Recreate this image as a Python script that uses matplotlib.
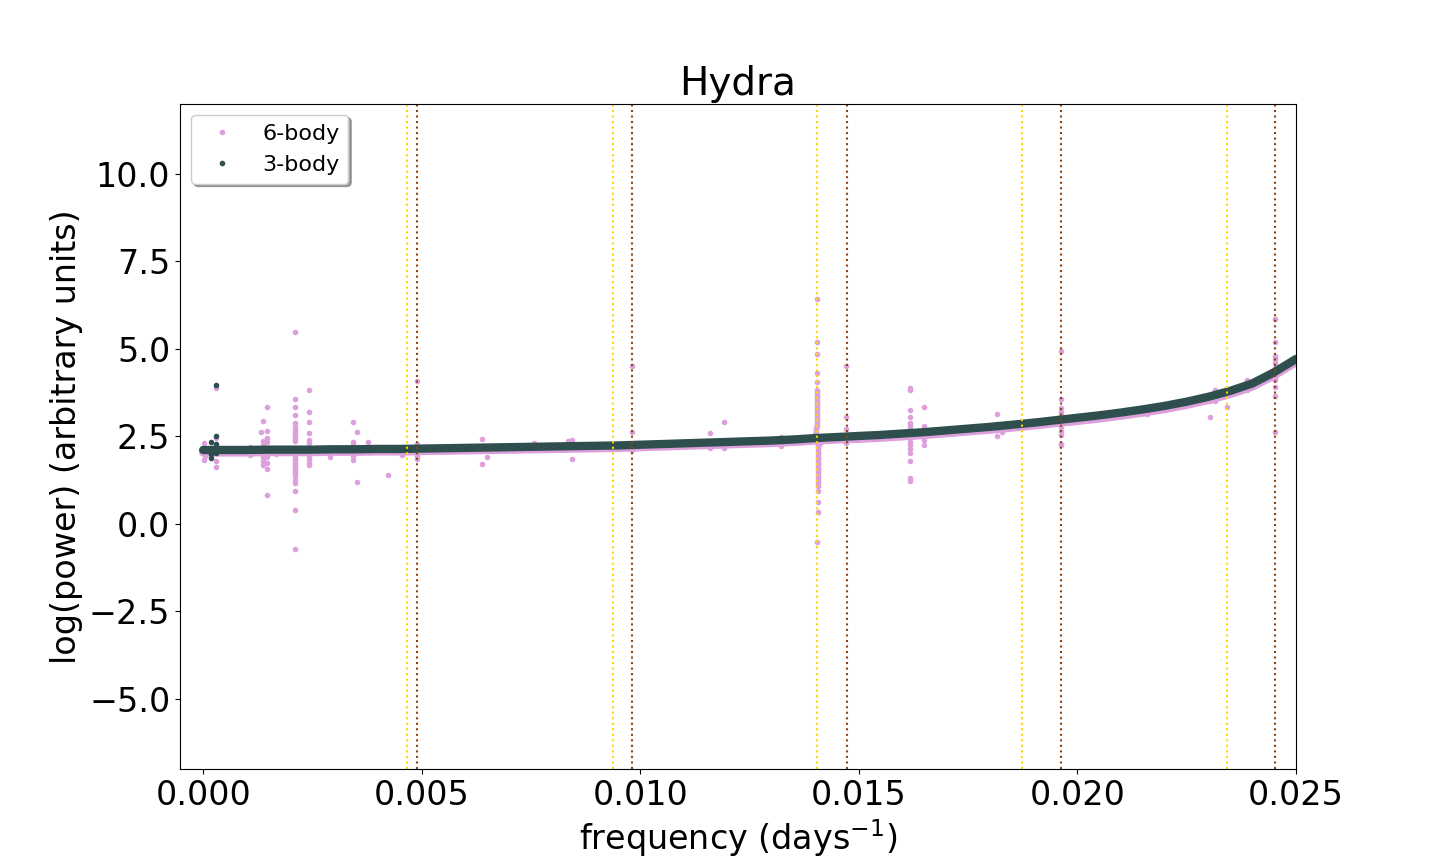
import matplotlib
matplotlib.use('Agg')
import matplotlib.pyplot as plt
from matplotlib.lines import Line2D

# frequency grid of the smooth part of the periodogram (days^-1)
freq = [0.0000, 0.0005, 0.0010, 0.0015, 0.0020, 0.0025, 0.0030, 0.0035, 0.0040, 0.0045,
        0.0050, 0.0055, 0.0060, 0.0065, 0.0070, 0.0075, 0.0080, 0.0085, 0.0090, 0.0095,
        0.0100, 0.0105, 0.0110, 0.0115, 0.0120, 0.0125, 0.0130, 0.0135, 0.0140, 0.0145,
        0.0150, 0.0155, 0.0160, 0.0165, 0.0170, 0.0175, 0.0180, 0.0185, 0.0190, 0.0195,
        0.0200, 0.0205, 0.0210, 0.0215, 0.0220, 0.0225, 0.0230, 0.0235, 0.0240, 0.0245,
        0.0250]

# log power along the smooth trend
base_3body = [2.11, 2.11, 2.11, 2.12, 2.12, 2.12, 2.13, 2.13, 2.14, 2.14,
              2.15, 2.16, 2.17, 2.18, 2.19, 2.20, 2.21, 2.22, 2.23, 2.24,
              2.26, 2.28, 2.30, 2.32, 2.34, 2.36, 2.38, 2.41, 2.45, 2.48,
              2.51, 2.54, 2.58, 2.62, 2.67, 2.72, 2.77, 2.83, 2.89, 2.96,
              3.03, 3.10, 3.18, 3.27, 3.37, 3.49, 3.63, 3.80, 4.01, 4.33,
              4.71]
base_6body = [2.04, 2.04, 2.04, 2.05, 2.05, 2.05, 2.06, 2.06, 2.07, 2.07,
              2.08, 2.09, 2.10, 2.11, 2.12, 2.13, 2.14, 2.15, 2.16, 2.17,
              2.19, 2.21, 2.23, 2.25, 2.27, 2.29, 2.31, 2.34, 2.38, 2.41,
              2.43, 2.46, 2.50, 2.54, 2.59, 2.64, 2.69, 2.75, 2.81, 2.88,
              2.94, 3.01, 3.09, 3.18, 3.28, 3.40, 3.54, 3.71, 3.92, 4.24,
              4.62]

# 6-body points that stand off the trend
peaks6_f = [0.00002, 0.00003, 0.00005, 0.00030, 0.00030, 0.00030, 0.00030,
            0.00106, 0.00106,
            0.00136, 0.00136, 0.00136, 0.00136, 0.00136, 0.00136, 0.00136, 0.00136, 0.00132,
            0.00145, 0.00145, 0.00145, 0.00145, 0.00145, 0.00145, 0.00145, 0.00145,
            0.00166, 0.00166,
            0.00209, 0.00209, 0.00209, 0.00209, 0.00209, 0.00209, 0.00209, 0.00209, 0.00209,
            0.00209, 0.00209, 0.00209, 0.00209, 0.00209, 0.00209, 0.00209, 0.00209, 0.00209,
            0.00209, 0.00209, 0.00209, 0.00209, 0.00209, 0.00209, 0.00209, 0.00209, 0.00209,
            0.00209,
            0.00243, 0.00243, 0.00243, 0.00243, 0.00243, 0.00243, 0.00243, 0.00243, 0.00243,
            0.00243,
            0.00282, 0.00291, 0.00291,
            0.00342, 0.00342, 0.00342, 0.00342, 0.00342,
            0.00353, 0.00353, 0.00353,
            0.00376, 0.00422, 0.00422, 0.00454, 0.00454,
            0.00489, 0.00489, 0.00489, 0.00489, 0.00489,
            0.00637, 0.00637, 0.00637, 0.00649, 0.00649, 0.00696, 0.00756,
            0.00834, 0.00834, 0.00843, 0.00843,
            0.00981, 0.00981, 0.00981,
            0.01160, 0.01160, 0.01192, 0.01192, 0.01323, 0.01323,
            # narrow feature at 0.01405
            0.01405, 0.01405, 0.01405, 0.01405, 0.01405, 0.01405, 0.01405, 0.01405, 0.01405,
            0.01405, 0.01405, 0.01405, 0.01405, 0.01405, 0.01405, 0.01405, 0.01405, 0.01405,
            0.01405, 0.01404, 0.01404, 0.01403, 0.01402, 0.01401, 0.01400, 0.01398, 0.01396,
            0.01406, 0.01406, 0.01406, 0.01406, 0.01406, 0.01406, 0.01406, 0.01406, 0.01406,
            0.01406, 0.01406, 0.01406, 0.01406, 0.01406, 0.01406, 0.01406, 0.01406, 0.01406,
            0.01406, 0.01406, 0.01406, 0.01406, 0.01406, 0.01406, 0.01407, 0.01408, 0.01410,
            0.01413, 0.01416, 0.01419, 0.01405,
            0.01471, 0.01471, 0.01471, 0.01471,
            0.01616, 0.01616, 0.01616, 0.01616, 0.01616, 0.01616, 0.01616, 0.01616, 0.01616,
            0.01616, 0.01616, 0.01616, 0.01616, 0.01616, 0.01616, 0.01616,
            0.01650, 0.01650, 0.01650, 0.01650,
            0.01815, 0.01815, 0.01815, 0.01828,
            0.01962, 0.01962, 0.01962, 0.01962, 0.01962, 0.01962, 0.01962, 0.01962, 0.01962,
            0.01962,
            0.02159, 0.02304, 0.02304, 0.02315, 0.02315, 0.02342, 0.02388, 0.02388,
            0.02453, 0.02453, 0.02453, 0.02453, 0.02453, 0.02453, 0.02453, 0.02453, 0.02453,
            0.02453, 0.02453, 0.02453]
peaks6_p = [2.30, 1.83, 1.95, 3.88, 1.62, 2.45, 1.80,
            1.97, 2.20,
            2.94, 2.37, 2.25, 2.10, 2.00, 1.90, 1.80, 1.69, 2.62,
            3.33, 2.66, 2.45, 2.35, 1.90, 1.75, 1.57, 0.83,
            2.15, 2.00,
            5.48, 3.56, 3.33, 3.11, 2.88, 2.78, 2.70, 2.62, 2.55,
            2.48, 2.42, 2.36, 1.98, 1.90, 1.84, 1.78, 1.72, 1.66,
            1.60, 1.54, 1.48, 1.42, 1.36, 1.26, 1.17, 0.93, 0.39,
            -0.72,
            3.82, 3.19, 2.91, 2.59, 2.40, 2.32, 1.95, 1.85, 1.75,
            1.69,
            2.15, 1.91, 2.18,
            2.91, 2.33, 2.25, 1.95, 1.83,
            2.62, 2.20, 1.19,
            2.33, 2.20, 1.40, 2.20, 1.97,
            4.08, 2.29, 2.20, 1.95, 1.84,
            2.42, 2.10, 1.71, 2.20, 1.92, 2.10, 2.31,
            2.38, 2.13, 2.40, 1.85,
            4.50, 2.62, 2.12,
            2.59, 2.18, 2.91, 2.18, 2.49, 2.21,
            6.42, 5.19, 4.86, 4.32, 4.04, 3.83, 3.76, 3.69, 3.62,
            3.55, 3.48, 3.41, 3.34, 3.27, 3.20, 3.13, 3.06, 2.99,
            2.92, 2.86, 2.80, 2.74, 2.68, 2.62, 2.57, 2.52, 2.48,
            2.31, 2.25, 2.19, 2.13, 2.07, 2.01, 1.95, 1.89, 1.83,
            1.77, 1.71, 1.65, 1.59, 1.53, 1.47, 1.41, 1.35, 1.29,
            1.23, 1.17, 1.08, 0.95, 0.61, 0.33, 2.24, 2.29, 2.32,
            2.35, 2.38, 2.40, -0.52,
            4.51, 3.05, 2.71, 2.30,
            3.88, 3.83, 3.26, 3.05, 2.88, 2.80, 2.70, 2.60, 2.45,
            2.35, 2.25, 2.15, 2.03, 1.79, 1.30, 1.21,
            3.33, 2.80, 2.40, 2.26,
            3.13, 2.85, 2.51, 2.62,
            4.94, 3.57, 3.31, 3.20, 3.11, 2.78, 2.65, 2.54, 2.29,
            2.24,
            3.14, 3.05, 3.51, 3.81, 3.51, 3.33, 4.11, 3.83,
            5.86, 5.19, 4.78, 4.70, 4.59, 4.46, 4.30, 4.20, 4.10,
            3.92, 3.64, 2.62]

# 3-body points that stand off the trend
peaks3_f = [0.00017, 0.00017, 0.00017, 0.00030, 0.00030, 0.00030, 0.00030]
peaks3_p = [2.33, 1.88, 2.00, 3.96, 2.50, 2.28, 2.02]

# marked frequencies
gold_lines = [0.00467, 0.00938, 0.01404, 0.01873, 0.02342]
brown_lines = [0.00490, 0.00981, 0.01473, 0.01963, 0.02452]

fig, ax = plt.subplots(figsize=(14.4, 8.64), dpi=100)

ax.plot(freq, base_6body, '-', color='plum', lw=6, solid_capstyle='round')
ax.plot(peaks6_f, peaks6_p, '.', color='plum', linestyle='none')
ax.plot(freq, base_3body, '-', color='darkslategray', lw=6, solid_capstyle='round')
ax.plot(peaks3_f, peaks3_p, '.', color='darkslategray', linestyle='none')

for f in gold_lines:
    ax.axvline(f, color='gold', linestyle=':')
for f in brown_lines:
    ax.axvline(f, color='saddlebrown', linestyle=':')

ax.set_xlim(-0.00053, 0.025)
ax.set_ylim(-7, 12)
ax.set_title('Hydra', fontsize=28)
ax.set_xlabel('frequency (days$^{-1}$)', fontsize=24)
ax.set_ylabel('log(power) (arbitrary units)', fontsize=24)
ax.tick_params(labelsize=24)

handles = [Line2D([], [], marker='.', color='plum', linestyle='none'),
           Line2D([], [], marker='.', color='darkslategray', linestyle='none')]
ax.legend(handles, ['6-body', '3-body'], loc='upper left', shadow=True, fontsize=16)

plt.savefig('out.png')
